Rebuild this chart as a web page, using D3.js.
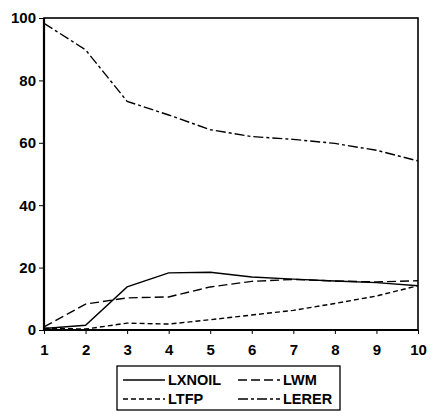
<!DOCTYPE html>
<html><head><meta charset="utf-8">
<script src="https://cdn.jsdelivr.net/npm/d3@7"></script>
<style>body{margin:0;background:#fff}svg{display:block}</style>
</head><body>
<script>
const periods = [1,2,3,4,5,6,7,8,9,10];
const LXNOIL = [0.5, 1.5, 13.8, 18.3, 18.5, 17.0, 16.3, 15.7, 15.2, 14.2];
const LWM    = [1.0, 8.3, 10.3, 10.6, 13.8, 15.6, 16.2, 15.7, 15.4, 15.8];
const LTFP   = [0.6, 0.3, 2.2, 1.9, 3.3, 4.8, 6.3, 8.5, 10.9, 14.2];
const LERER  = [98.3, 89.8, 73.3, 68.9, 64.2, 62.0, 61.1, 59.8, 57.6, 54.2];
const yTicks = [0,20,40,60,80,100];
const seriesNames = ["LXNOIL","LWM","LTFP","LERER"];

const W=441,H=419;
const svg=d3.select("body").append("svg").attr("width",W).attr("height",H);
const m={l:44,r:23,t:18,b:89};
const x=d3.scaleLinear().domain([1,10]).range([m.l,W-m.r]);
const y=d3.scaleLinear().domain([0,100]).range([H-m.b,m.t]);
const font="'Liberation Sans', Arial, sans-serif";

const dashes=[null,"9,4","5,3","10,3,3,3"];
const valsList=[LXNOIL,LWM,LTFP,LERER];
const series=seriesNames.map((n,i)=>({name:n,vals:valsList[i],dash:dashes[i]}));
const line=d3.line().x((d,i)=>x(periods[i])).y(d=>y(d));
series.forEach(s=>{
  svg.append("path").attr("d",line(s.vals)).attr("fill","none")
   .attr("stroke","#000").attr("stroke-width",1.4)
   .attr("stroke-dasharray",s.dash);
});

// frame
svg.append("rect").attr("x",m.l).attr("y",m.t).attr("width",W-m.r-m.l).attr("height",H-m.b-m.t)
 .attr("fill","none").attr("stroke","#000").attr("stroke-width",1.6);
svg.append("line").attr("x1",m.l).attr("x2",m.l).attr("y1",m.t).attr("y2",H-m.b).attr("stroke","#000").attr("stroke-width",2.2);
svg.append("line").attr("x1",m.l).attr("x2",W-m.r).attr("y1",H-m.b).attr("y2",H-m.b).attr("stroke","#000").attr("stroke-width",2.2);

const ya=svg.append("g").attr("transform",`translate(${m.l},0)`)
 .call(d3.axisLeft(y).tickValues(yTicks).tickSize(5).tickPadding(3));
ya.select(".domain").remove();
ya.selectAll("text").attr("font-family",font).attr("font-size",15).attr("font-weight","bold").attr("fill","#000");
ya.selectAll("line").attr("stroke","#000");

const xa=svg.append("g").attr("transform",`translate(0,${H-m.b})`)
 .call(d3.axisBottom(x).tickValues(periods).tickFormat(d3.format("d")).tickSize(4).tickPadding(10));
xa.select(".domain").remove();
xa.selectAll("text").attr("font-family",font).attr("font-size",15).attr("font-weight","bold").attr("fill","#000");
xa.selectAll("line").attr("stroke","#000");

// legend
const lg=svg.append("g");
lg.append("rect").attr("x",117).attr("y",366).attr("width",223).attr("height",44)
 .attr("fill","#fff").attr("stroke","#000").attr("stroke-width",1.3);
const pos=[[123,380],[238,380],[123,399],[238,399]];
series.forEach((s,i)=>{
  const [px,py]=pos[i];
  lg.append("line").attr("x1",px).attr("x2",px+42).attr("y1",py).attr("y2",py)
   .attr("stroke","#000").attr("stroke-width",1.3).attr("stroke-dasharray",s.dash);
  lg.append("text").attr("x",px+45).attr("y",py).attr("dy","0.36em")
   .attr("font-family",font).attr("font-size",14.5).attr("font-weight","bold").text(s.name);
});
</script>
</body></html>
